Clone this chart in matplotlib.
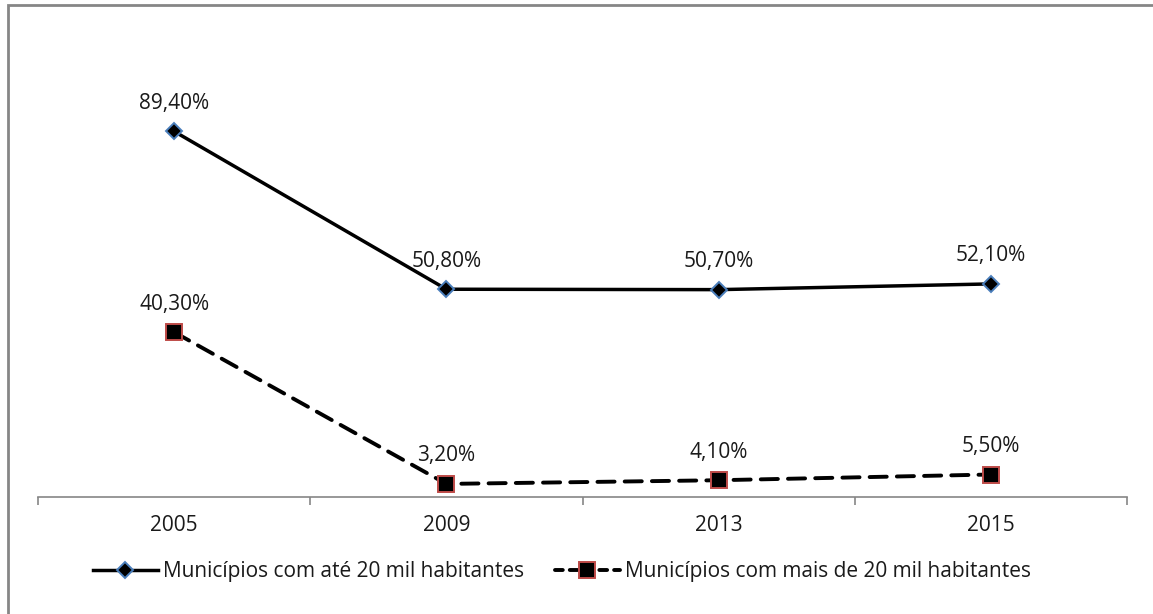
import matplotlib
matplotlib.use("Agg")
import matplotlib.pyplot as plt
from matplotlib.patches import Rectangle
from matplotlib.lines import Line2D

plt.rcParams['font.family'] = ['Open Sans', 'DejaVu Sans']

anos = ["2005", "2009", "2013", "2015"]
ate_20_mil = [89.4, 50.8, 50.7, 52.1]
mais_20_mil = [40.3, 3.2, 4.1, 5.5]
nome_ate = "Municípios com até 20 mil habitantes"
nome_mais = "Municípios com mais de 20 mil habitantes"

W, H = 1153, 614
fig = plt.figure(figsize=(W / 100, H / 100), dpi=100)
ax = fig.add_axes([38 / W, 1 - 497 / H, (1127 - 38) / W, (497 - 88) / H])

x = list(range(len(anos)))
azul = "#4a7ebb"
verm = "#be4b48"
cinza = "#868686"
texto = "#1a1a1a"
fs = 15

ax.plot(x, ate_20_mil, color="black", lw=2.5, marker="D", ms=8.5,
        mfc="black", mec=azul, mew=1.4, solid_capstyle="round", zorder=3)
ax.plot(x, mais_20_mil, color="black", lw=2.8, marker="s", ms=11.5,
        mfc="black", mec=verm, mew=1.4, dashes=(4.4, 2.6),
        dash_capstyle="round", zorder=3)

def fmt(v):
    return f"{v:.2f}".replace(".", ",") + "%"

# rótulos de dados acima de cada ponto
for serie in (ate_20_mil, mais_20_mil):
    for xi, v in zip(x, serie):
        ax.annotate(fmt(v), (xi, v), xytext=(0, 28), textcoords="offset pixels",
                    ha="center", va="center", fontsize=fs, color=texto)

ax.set_xlim(-0.5, len(anos) - 0.5)
ax.set_ylim(0, 100)
for s in ("top", "right", "left"):
    ax.spines[s].set_visible(False)
ax.spines["bottom"].set_color(cinza)
ax.spines["bottom"].set_linewidth(1.2)
ax.set_yticks([])
ax.set_xticks([i - 0.5 for i in range(len(anos) + 1)], minor=False)
ax.set_xticklabels([])
ax.tick_params(axis="x", length=6, width=1.2, color=cinza)
ax.set_xticks(x, minor=True)
ax.set_xticklabels(anos, minor=True)
ax.tick_params(axis="x", which="minor", length=0, pad=13, labelsize=fs,
               labelcolor=texto)

handles = [
    Line2D([], [], color="black", lw=2.5, marker="D", ms=8.5, mfc="black",
           mec=azul, mew=1.4),
    Line2D([], [], color="black", lw=2.8, marker="s", ms=11.5, mfc="black",
           mec=verm, mew=1.4, dashes=(2.0, 1.8), dash_capstyle="round"),
]
fig.legend(handles, [nome_ate, nome_mais], loc="center", ncol=2,
           bbox_to_anchor=(562 / W, 1 - 572 / H), frameon=False,
           fontsize=fs, handlelength=3.1, handletextpad=0.25,
           columnspacing=1.5, labelcolor=texto)

# moldura externa do gráfico
fig.patches.append(Rectangle((8 / W, -0.1), 1.2, 1 - 5 / H + 0.1,
                             transform=fig.transFigure, fill=False,
                             edgecolor=cinza, lw=2))

fig.savefig("out.png", dpi=100, facecolor="white")
